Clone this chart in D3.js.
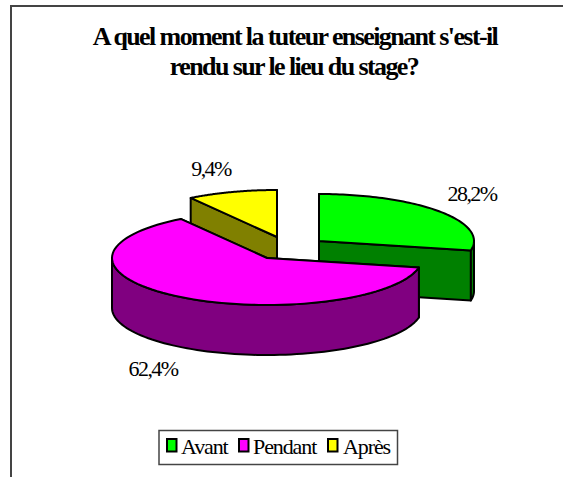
<!DOCTYPE html>
<html>
<head>
<meta charset="utf-8">
<style>
html, body { margin: 0; padding: 0; background: #fff; }
svg { display: block; }
text { font-family: "Liberation Serif", serif; fill: #000; }
</style>
</head>
<body>
<svg id="viz"></svg>
<script src="https://cdn.jsdelivr.net/npm/d3@7"></script>
<script>
var categories = ["Avant", "Pendant", "Après"];
var values = [28.2, 62.4, 9.4];
var valueLabels = ["28,2%", "62,4%", "9,4%"];
var titleLines = ["A quel moment la tuteur enseignant s'est-il", "rendu sur le lieu du stage?"];

var width = 563, height = 477;
var rx = 155, ry = 47, depth = 50;

var topColor = ["#00ff00", "#ff00ff", "#ffff00"];
var sideColor = ["#008000", "#800080", "#808000"];
// exploded apex of each slice
var apex = [[319, 241], [267, 258], [277, 237]];
var labelPos = [[472, 201], [153, 376], [211, 176]];

var svg = d3.select("#viz").attr("width", width).attr("height", height);

// frame: only left and top show in the picture
svg.append("path")
    .attr("d", "M11,477V6H563")
    .attr("fill", "none")
    .attr("stroke", "#444")
    .attr("stroke-width", 2);

svg.selectAll("text.title")
    .data(titleLines)
    .enter()
    .append("text")
    .attr("class", "title")
    .attr("transform", function(d, i) { return "translate(" + (295 - i) + "," + (45 + i * 30) + ")"; })
    .attr("text-anchor", "middle")
    .style("font-size", "26px")
    .style("font-weight", "bold")
    .style("letter-spacing", "-1.6px")
    .text(function(d) { return d; });

var slices = d3.pie().sort(null)(values);

function px(a, i) { return apex[i][0] + rx * Math.sin(a); }
function py(a, i) { return apex[i][1] - ry * Math.cos(a); }

// rim of the ellipse between two angles
function arcPoints(a0, a1, i, dy) {
    var n = 80, pts = [];
    var s = d3.scaleLinear().domain([0, n]).range([a0, a1]);
    d3.range(n + 1).forEach(function(k) {
        pts.push([px(s(k), i), py(s(k), i) + dy]);
    });
    return pts;
}

var line = d3.line();

function shape(pts, fill) {
    svg.append("path")
        .attr("d", line(pts) + "Z")
        .attr("fill", fill)
        .attr("stroke", "#000")
        .attr("stroke-width", 2)
        .attr("stroke-linejoin", "round");
}

function drawSlice(i) {
    var a0 = slices[i].startAngle, a1 = slices[i].endAngle;
    var c = apex[i];

    // cut faces
    [a0, a1].forEach(function(a) {
        shape([c, [px(a, i), py(a, i)], [px(a, i), py(a, i) + depth], [c[0], c[1] + depth]], sideColor[i]);
    });

    // outer wall: only the part of the rim facing the viewer
    var from = Math.max(a0, Math.PI / 2), to = Math.min(a1, Math.PI * 1.5);
    if (to > from) {
        shape(arcPoints(from, to, i, 0).concat(arcPoints(from, to, i, depth).reverse()), sideColor[i]);
    }

    // top
    shape([c].concat(arcPoints(a0, a1, i, 0)), topColor[i]);
}

[2, 0, 1].forEach(drawSlice);

svg.selectAll("text.value")
    .data(valueLabels)
    .enter()
    .append("text")
    .attr("class", "value")
    .attr("transform", function(d, i) { return "translate(" + labelPos[i][0] + "," + labelPos[i][1] + ")"; })
    .attr("text-anchor", "middle")
    .style("font-size", "22px")
    .style("letter-spacing", "-1.6px")
    .text(function(d) { return d; });

// legend
var legend = svg.append("g");
legend.append("rect")
    .attr("x", 159).attr("y", 430.5)
    .attr("width", 238.5).attr("height", 34)
    .attr("fill", "#fff").attr("stroke", "#444").attr("stroke-width", 1.5);

var swatchX = [167, 239, 328];
var legendTextX = [181, 253, 343];
categories.forEach(function(name, i) {
    legend.append("rect")
        .attr("x", swatchX[i]).attr("y", 439)
        .attr("width", 9.5).attr("height", 12.5)
        .attr("fill", topColor[i])
        .attr("stroke", "#000").attr("stroke-width", 2);
    legend.append("text")
        .attr("x", legendTextX[i]).attr("y", 454)
        .style("font-size", "22px")
        .style("letter-spacing", "-1.1px")
        .text(name);
});
</script>
</body>
</html>
